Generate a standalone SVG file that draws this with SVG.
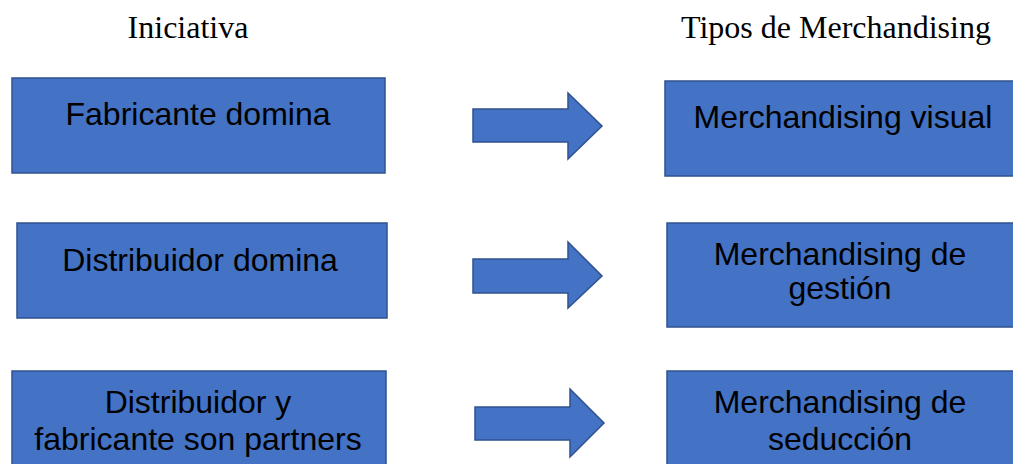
<svg xmlns="http://www.w3.org/2000/svg" width="1013" height="464" viewBox="0 0 1013 464">
<style>
.box{fill:#4472C4;stroke:#2F528F;stroke-width:1.5}
.arr{fill:#4472C4;stroke:#2F528F;stroke-width:1.5;stroke-linejoin:miter}
.t{font-family:"Liberation Sans",Arial,sans-serif;font-size:32px;fill:#000;text-anchor:middle}
.h{font-family:"Liberation Serif","Times New Roman",serif;font-size:32px;fill:#000;text-anchor:middle}
</style>
<rect width="1013" height="464" fill="#fff"/>
<g id="titles">
<text class="h" x="188" y="38">Iniciativa</text>
<text class="h" x="836" y="38">Tipos de Merchandising</text>
</g>
<g id="n1"><rect class="box" x="12" y="78" width="373" height="95"/><text class="t" x="198" y="125">Fabricante domina</text></g>
<g id="n2"><rect class="box" x="17" y="223" width="370" height="95"/><text class="t" x="200" y="271">Distribuidor domina</text></g>
<g id="n3"><rect class="box" x="12" y="371" width="374" height="100"/><text class="t" x="198" y="413">Distribuidor y</text><text class="t" x="198" y="450">fabricante son partners</text></g>
<g id="m1"><rect class="box" x="665" y="81" width="352" height="95"/><text class="t" x="843" y="128">Merchandising visual</text></g>
<g id="m2"><rect class="box" x="667" y="223" width="350" height="104"/><text class="t" x="840" y="265">Merchandising de</text><text class="t" x="840" y="299">gestión</text></g>
<g id="m3"><rect class="box" x="667" y="371" width="350" height="100"/><text class="t" x="840" y="413">Merchandising de</text><text class="t" x="840" y="450">seducción</text></g>
<g id="connectors">
<polygon class="arr" points="473,109 568,109 568,93 602,126 568,159 568,142 473,142"/>
<polygon class="arr" points="473,259 568,259 568,242 602,276 568,308 568,293 473,293"/>
<polygon class="arr" points="475,407 570,407 570,389 604,423 570,457 570,440 475,440"/>
</g>
</svg>
